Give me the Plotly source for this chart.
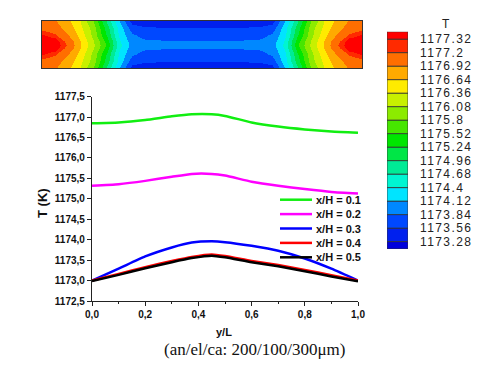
import plotly.graph_objects as go

# page body adds an 8 px margin, so the figure is sized to fit the 480x371 window
OFF = 8
W, H = 480 - OFF, 371 - OFF


def px(x):
    return (x - OFF) / W


def py(y):
    return 1 - (y - OFF) / H


# ---------------- line chart data ----------------
y_over_L = [0.0, 0.1, 0.2, 0.3, 0.375, 0.45, 0.5, 0.6, 0.7, 0.8, 0.9, 1.0]
T_xH_01 = [1176.85, 1176.87, 1176.93, 1177.02, 1177.07, 1177.07, 1177.03, 1176.87, 1176.77, 1176.70, 1176.65, 1176.62]
T_xH_02 = [1175.32, 1175.36, 1175.44, 1175.54, 1175.61, 1175.61, 1175.57, 1175.42, 1175.32, 1175.24, 1175.17, 1175.13]
T_xH_03 = [1173.00, 1173.29, 1173.59, 1173.81, 1173.93, 1173.96, 1173.94, 1173.85, 1173.73, 1173.54, 1173.29, 1173.00]
T_xH_04 = [1173.00, 1173.16, 1173.33, 1173.48, 1173.58, 1173.64, 1173.60, 1173.48, 1173.38, 1173.26, 1173.13, 1173.00]
T_xH_05 = [1172.99, 1173.14, 1173.30, 1173.45, 1173.55, 1173.61, 1173.57, 1173.45, 1173.35, 1173.23, 1173.10, 1172.98]
series_names = ["x/H = 0.1", "x/H = 0.2", "x/H = 0.3", "x/H = 0.4", "x/H = 0.5"]
series_values = [T_xH_01, T_xH_02, T_xH_03, T_xH_04, T_xH_05]
series_colors = ["#11ee11", "#ff00ff", "#0000ff", "#ff0000", "#000000"]

y_tick_vals = [1172.5, 1173.0, 1173.5, 1174.0, 1174.5, 1175.0, 1175.5, 1176.0, 1176.5, 1177.0, 1177.5]
x_tick_vals = [0.0, 0.2, 0.4, 0.6, 0.8, 1.0]

# ---------------- contour field data ----------------
field_cols = [0, 0.04, 0.08, 0.12, 0.16, 0.2, 0.24, 0.28, 0.32, 0.4, 0.5, 0.6, 0.68, 0.72, 0.76, 0.8, 0.84, 0.88, 0.92, 0.96, 1.0]
field_rows = [0, 0.15, 0.3, 0.42, 0.5, 0.58, 0.7, 0.85, 1.0]
row_edge = [1177.05, 1176.95, 1176.70, 1176.36, 1175.80, 1174.96, 1174.12, 1173.45, 1173.38, 1173.36, 1173.36, 1173.36, 1173.38, 1173.45, 1174.12, 1174.96, 1175.80, 1176.36, 1176.70, 1176.95, 1177.05]
row_15 = [1177.14, 1177.04, 1176.80, 1176.45, 1175.95, 1175.15, 1174.30, 1173.70, 1173.60, 1173.58, 1173.58, 1173.58, 1173.60, 1173.70, 1174.30, 1175.15, 1175.95, 1176.45, 1176.80, 1177.04, 1177.14]
row_30 = [1177.34, 1177.24, 1176.92, 1176.55, 1176.00, 1175.25, 1174.35, 1173.88, 1173.76, 1173.72, 1173.72, 1173.72, 1173.76, 1173.88, 1174.35, 1175.25, 1176.00, 1176.55, 1176.92, 1177.24, 1177.34]
row_42 = [1177.44, 1177.40, 1177.12, 1176.65, 1176.10, 1175.45, 1174.45, 1173.96, 1173.88, 1173.85, 1173.85, 1173.85, 1173.88, 1173.96, 1174.45, 1175.45, 1176.10, 1176.65, 1177.12, 1177.40, 1177.44]
row_50 = [1177.48, 1177.42, 1177.16, 1176.68, 1176.15, 1175.50, 1174.50, 1174.00, 1173.92, 1173.90, 1173.92, 1173.90, 1173.92, 1174.00, 1174.50, 1175.50, 1176.15, 1176.68, 1177.16, 1177.42, 1177.48]
field_T = [row_edge, row_15, row_30, row_42, row_50, row_42, row_30, row_15, row_edge]

# ---------------- colour legend data ----------------
level_labels = ["1173.28", "1173.56", "1173.84", "1174.12", "1174.4", "1174.68", "1174.96", "1175.24",
                "1175.52", "1175.8", "1176.08", "1176.36", "1176.64", "1176.92", "1177.2", "1177.32"]
level_values = [float(v) for v in level_labels]
band_colors = ["#0000dc", "#0020ee", "#0048ff", "#0088ff", "#00e4ff", "#00f5d2", "#00eb96", "#00e646",
               "#00e600", "#46e600", "#8ceb00", "#c8f000", "#ffeb00", "#ffaa00", "#ff6e00", "#ff2a00", "#ff0000"]

zmin, zmax = 1173.0, 1177.6
colorscale = []
bounds = [zmin] + level_values + [zmax]
for i, c in enumerate(band_colors):
    lo = (bounds[i] - zmin) / (zmax - zmin)
    hi = (bounds[i + 1] - zmin) / (zmax - zmin)
    colorscale.append([lo, c])
    colorscale.append([hi, c])

FONT = "Arial, Liberation Sans, sans-serif"

fig = go.Figure()

# contour-like field
fig.add_trace(go.Heatmap(
    x=field_cols, y=field_rows, z=field_T, zsmooth="best",
    colorscale=colorscale, zmin=zmin, zmax=zmax, showscale=False,
    hoverinfo="skip", xaxis="x2", yaxis="y2"))

# discrete colour legend as stacked bands
n = len(level_labels)
band_base = [-0.55] + list(range(n - 1)) + [n - 1]
band_height = [0.55] + [1] * (n - 1) + [0.55]
fig.add_trace(go.Bar(
    x=[0] * len(band_colors), y=band_height, base=band_base, width=1,
    marker=dict(color=band_colors, line=dict(color="#333333", width=0.8)),
    hoverinfo="skip", showlegend=False, xaxis="x3", yaxis="y3"))

# lines
for name, vals, col in zip(series_names, series_values, series_colors):
    fig.add_trace(go.Scatter(
        x=y_over_L, y=vals, mode="lines", name=name,
        line=dict(color=col, width=2.5, shape="spline", smoothing=0.5),
        showlegend=False, xaxis="x", yaxis="y"))

annotations = []
shapes = []
# manual legend (compact spacing like the original)
for i, (name, col) in enumerate(zip(series_names, series_colors)):
    yp = py(199.7 + i * 14.4)
    shapes.append(dict(type="line", xref="paper", yref="paper", x0=px(280), x1=px(312), y0=yp, y1=yp,
                       line=dict(color=col, width=2.5)))
    annotations.append(dict(text="<b>%s</b>" % name, xref="paper", yref="paper", x=px(314), y=yp,
                            xanchor="left", yanchor="middle", showarrow=False,
                            font=dict(family=FONT, size=11, color="#111111")))

annotations += [
    dict(text="<b>T (K)</b>", xref="paper", yref="paper", x=px(42), y=py(203), textangle=-90,
         showarrow=False, xanchor="center", yanchor="middle", font=dict(family=FONT, size=13, color="#111111")),
    dict(text="<b>y/L</b>", xref="paper", yref="paper", x=px(224), y=py(332),
         showarrow=False, xanchor="center", yanchor="middle", font=dict(family=FONT, size=11, color="#111111")),
    dict(text="(an/el/ca: 200/100/300μm)", xref="paper", yref="paper", x=px(254), y=py(349),
         showarrow=False, xanchor="center", yanchor="middle",
         font=dict(family="Times New Roman, Liberation Serif, serif", size=17, color="#111111")),
    dict(text="T", xref="paper", yref="paper", x=px(446), y=py(24),
         showarrow=False, xanchor="center", yanchor="middle", font=dict(family=FONT, size=12, color="#222222")),
]

fig.update_layout(
    width=W, height=H, margin=dict(l=0, r=0, t=0, b=0, pad=0, autoexpand=False),
    paper_bgcolor="white", plot_bgcolor="white",
    separators=",.", barmode="overlay", showlegend=False,
    annotations=annotations, shapes=shapes,
    xaxis=dict(domain=[px(92), px(358)], range=[0, 1], anchor="y", automargin=False,
               tickvals=x_tick_vals, tickformat=".1f", ticks="outside", ticklen=4, tickwidth=1,
               tickcolor="#222", showline=True, linecolor="#222", linewidth=1.2,
               showgrid=False, zeroline=False,
               minor=dict(ticks="outside", ticklen=2, dtick=0.1, tickcolor="#222"),
               tickfont=dict(family=FONT, size=10, color="#111111", weight="bold")),
    yaxis=dict(domain=[py(301), py(96.7)], range=[1172.5, 1177.5], anchor="x", automargin=False,
               tickvals=y_tick_vals, tickformat=".1f", ticks="outside", ticklen=4, tickwidth=1,
               tickcolor="#222", showline=True, linecolor="#222", linewidth=1.2,
               showgrid=False, zeroline=False,
               tickfont=dict(family=FONT, size=10, color="#111111", weight="bold")),
    xaxis2=dict(domain=[px(42), px(362)], range=[0, 1], anchor="y2", showline=True, mirror=True, automargin=False,
                linecolor="#333", linewidth=1, showticklabels=False, ticks="", showgrid=False, zeroline=False),
    yaxis2=dict(domain=[py(68), py(21)], range=[0, 1], anchor="x2", showline=True, mirror=True, automargin=False,
                linecolor="#333", linewidth=1, showticklabels=False, ticks="", showgrid=False, zeroline=False),
    xaxis3=dict(domain=[px(387), px(408)], range=[-0.5, 0.5], anchor="y3", visible=False, automargin=False),
    yaxis3=dict(domain=[py(249), py(31.7)], range=[-0.55, n - 1 + 0.55], anchor="x3", automargin=False,
                side="right", tickvals=list(range(n)),
                ticktext=["<span style='letter-spacing:1.4px'>%s</span>" % t for t in level_labels],
                ticks="", ticklabelstandoff=11, showgrid=False, zeroline=False, showline=False,
                tickfont=dict(family=FONT, size=12, color="#222222")),
)

fig.write_html("out.html")
